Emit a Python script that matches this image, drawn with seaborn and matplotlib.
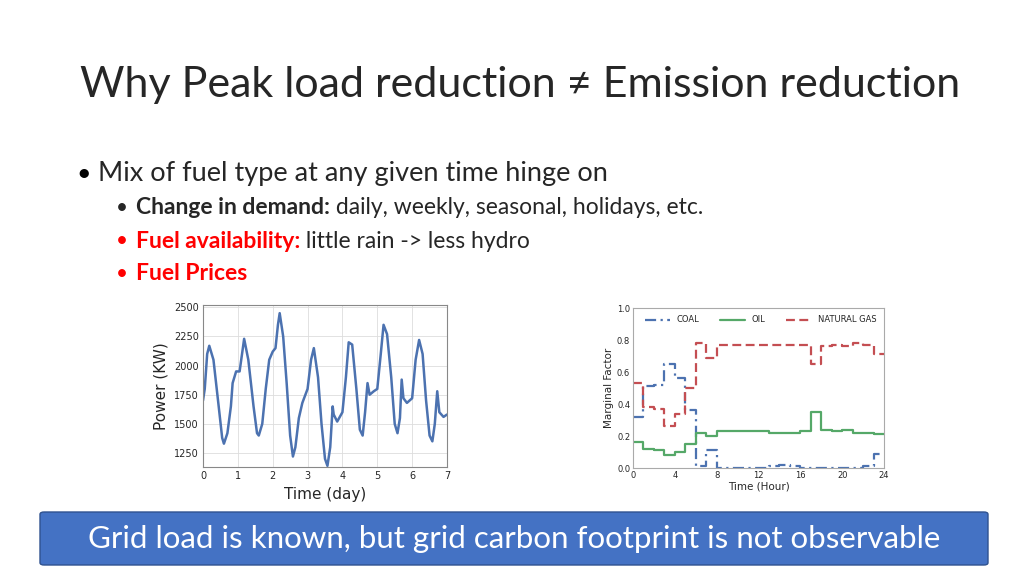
import matplotlib
matplotlib.use("Agg")
import matplotlib.pyplot as plt
import seaborn as sns
import pandas as pd
import numpy as np
from matplotlib.patches import FancyBboxPatch

day = [0,0.05,0.12,0.18,0.3,0.45,0.55,0.6,0.7,0.8,0.85,0.95,1.05,1.12,1.18,1.3,1.45,1.55,1.6,1.7,1.8,1.9,2.0,2.08,2.15,2.2,2.3,2.4,2.5,2.58,2.65,2.75,2.85,3.0,3.1,3.18,3.3,3.4,3.5,3.57,3.65,3.72,3.75,3.85,4.0,4.1,4.18,4.28,4.4,4.5,4.58,4.65,4.72,4.78,4.9,5.0,5.1,5.18,5.28,5.4,5.5,5.58,5.65,5.7,5.75,5.85,6.0,6.1,6.2,6.3,6.4,6.5,6.58,6.65,6.72,6.78,6.9,7.0]
power = [1700,1800,2100,2170,2050,1650,1380,1330,1420,1650,1850,1950,1950,2100,2230,2050,1650,1420,1400,1500,1800,2050,2120,2150,2350,2450,2250,1850,1400,1220,1300,1550,1680,1800,2050,2150,1900,1500,1200,1140,1300,1650,1580,1520,1600,1900,2200,2180,1800,1450,1400,1600,1850,1750,1780,1800,2100,2350,2270,1900,1500,1420,1550,1880,1720,1680,1720,2050,2220,2100,1700,1400,1350,1500,1780,1600,1560,1580]

hours = list(range(25))
coal = [0.32,0.51,0.52,0.65,0.56,0.36,0.01,0.11,0,0,0,0,0,0.01,0.02,0.01,0,0,0,0,0,0,0.01,0.09,0.09]
oil = [0.16,0.12,0.11,0.08,0.10,0.15,0.22,0.20,0.23,0.23,0.23,0.23,0.23,0.22,0.22,0.22,0.23,0.35,0.24,0.23,0.24,0.22,0.22,0.21,0.21]
gas = [0.53,0.38,0.37,0.26,0.34,0.50,0.78,0.69,0.77,0.77,0.77,0.77,0.77,0.77,0.77,0.77,0.77,0.65,0.76,0.77,0.76,0.78,0.77,0.71,0.71]

fig = plt.figure(figsize=(10.24,5.76), dpi=100)
W,H = 1024,576
font = "Lato"

fig.text(80/W, 1-85/H, "Why Peak load reduction \u2260 Emission reduction", fontsize=31, family=font, color="#262626", va="center")
fig.text(76/W, 1-173/H, "\u2022", fontsize=18, family=font, va="center")
fig.text(98/W, 1-173/H, "Mix of fuel type at any given time hinge on", fontsize=19.5, family=font, va="center", color="#262626")
subs = [("Change in demand:", " daily, weekly, seasonal, holidays, etc.", "#262626", 208),
        ("Fuel availability:", " little rain -> less hydro", "red", 241),
        ("Fuel Prices", "", "red", 274)]
for b, r, c, y in subs:
    fig.text(116/W, 1-y/H, "\u2022", fontsize=15, family=font, va="center", color=c)
    t = fig.text(136/W, 1-y/H, b, fontsize=16.5, family=font, weight="bold", va="center", color=c)
    if r:
        fig.canvas.draw()
        bb = t.get_window_extent()
        fig.text(bb.x1/W, 1-y/H, r, fontsize=16.5, family=font, va="center", color="#262626")

# left chart
sns.set_style("whitegrid")
ax1 = fig.add_axes([203/W, 1-467/H, 244/W, 162/H])
sns.lineplot(x=day, y=power, ax=ax1, color="#4c72b0", lw=1.8)
ax1.set_xlim(0,7); ax1.set_ylim(1130,2520)
ax1.set_xticks(range(8)); ax1.set_yticks([1250,1500,1750,2000,2250,2500])
ax1.set_xlabel("Time (day)", fontsize=11); ax1.set_ylabel("Power (KW)", fontsize=11)
ax1.tick_params(labelsize=7, length=0, pad=3)
for s in ax1.spines.values(): s.set_color("#888888"); s.set_linewidth(0.8)
ax1.grid(color="#dddddd", lw=0.6)

# right chart
ax2 = fig.add_axes([633/W, 1-468/H, 251/W, 160/H])
ax2.set_facecolor("white"); ax2.grid(False)
df = pd.DataFrame({"h": hours*3, "v": coal+oil+gas, "f": ["COAL"]*25+["OIL"]*25+["NATURAL GAS"]*25})
for name, col, ls in [("COAL","#4c72b0",(0,(5,2,1,2))),("OIL","#55a868","-"),("NATURAL GAS","#c44e52",(0,(4,2)))]:
    d = df[df.f==name]
    sns.lineplot(x=d.h, y=d.v, drawstyle="steps-post", ax=ax2, color=col, lw=1.6, linestyle=ls, label=name)
ax2.set_xlim(0,24); ax2.set_ylim(0,1.0)
ax2.set_xticks(range(0,25,4)); ax2.set_yticks([0,0.2,0.4,0.6,0.8,1.0])
ax2.set_yticklabels(["0.0","0.2","0.4","0.6","0.8","1.0"])
ax2.set_xlabel("Time (Hour)", fontsize=7.5, labelpad=1); ax2.set_ylabel("Marginal Factor", fontsize=7.5, labelpad=2)
ax2.tick_params(labelsize=6, length=0, pad=2)
for s in ax2.spines.values(): s.set_color("#aaaaaa"); s.set_linewidth(0.8)
ax2.legend(ncol=3, loc="upper right", frameon=False, fontsize=6, handlelength=3, columnspacing=2.5)

# banner
fig.patches.append(FancyBboxPatch((40/W, 1-565/H), 948/W, 53/H, boxstyle="round,pad=0,rounding_size=0.004",
                                   transform=fig.transFigure, facecolor="#4472c4", edgecolor="#2f528f", lw=1))
fig.text(514/W, 1-539/H, "Grid load is known, but grid carbon footprint is not observable", fontsize=22.5, family=font,
         color="white", ha="center", va="center")

fig.savefig("out.png", dpi=100)
